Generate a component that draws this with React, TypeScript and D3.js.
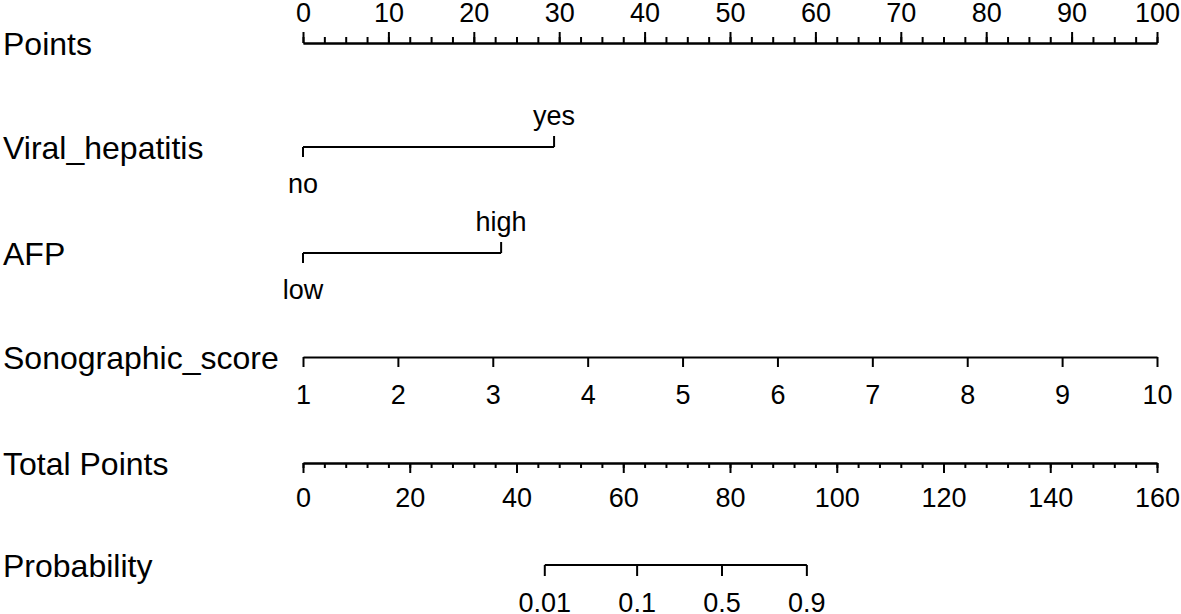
import * as d3 from 'd3';
import React, { useEffect } from 'react';

// nomogram values
const rowLabels = ['Points', 'Viral_hepatitis', 'AFP', 'Sonographic_score', 'Total Points', 'Probability'];
const pointsMajor = d3.range(0, 101, 10);
const pointsMinor = d3.range(0, 100.01, 2.5);
const viralLevels = ['no', 'yes'];
const viralPoints = [0, 29.4];
const afpLevels = ['low', 'high'];
const afpPoints = [0, 23.2];
const sonoScores = [1, 2, 3, 4, 5, 6, 7, 8, 9, 10];
const sonoPointRange = [0, 100];
const totalMajor = d3.range(0, 161, 20);
const totalMinor = d3.range(0, 160.01, 4);
const probTicks = [0.01, 0.1, 0.5, 0.9];
const probTotalPoints = [45.3, 62.6, 78.5, 94.4];

const width = 1181;
const height = 614;
const rowY = [43, 147, 253, 357, 463, 565];
const font = "'Liberation Sans', Arial, sans-serif";

const App = () => {
  useEffect(() => {
    d3.select('#nomogram').selectAll('*').remove();
    const svg = d3.select('#nomogram')
      .append('svg')
      .attr('width', width)
      .attr('height', height)
      .style('display', 'block')
      .style('background', '#fff');

    const x = d3.scaleLinear().domain([0, 100]).range([303, 1157]);
    const xTotal = d3.scaleLinear().domain([0, 160]).range([303, 1157]);

    // row titles on the left
    svg.append('g')
      .selectAll('text')
      .data(rowLabels)
      .enter().append('text')
      .attr('x', 3)
      .attr('y', (d, i) => rowY[i] + 12)
      .attr('font-family', font)
      .attr('font-size', 32)
      .text(d => d);

    const styleAxis = (g: any) => {
      g.select('.domain').attr('stroke', '#000').attr('stroke-width', 2);
      g.selectAll('.tick line').attr('stroke', '#000').attr('stroke-width', 2);
      g.selectAll('.tick text').attr('fill', '#000').attr('font-family', font).attr('font-size', 27);
      g.attr('font-family', null).attr('font-size', null);
    };

    // Points
    svg.append('g')
      .attr('transform', `translate(0,${rowY[0]})`)
      .call(d3.axisTop(x).tickValues(pointsMinor).tickSize(6).tickSizeOuter(0).tickFormat(() => ''))
      .call(styleAxis);
    svg.append('g')
      .attr('transform', `translate(0,${rowY[0]})`)
      .call(d3.axisTop(x).tickValues(pointsMajor).tickSize(11).tickSizeOuter(0).tickPadding(10).tickFormat(d3.format('d')))
      .call(styleAxis);

    // two-level factors: first level tick down / label below, second up / label above
    const factor = (levels: string[], pts: number[], y: number) => {
      const g = svg.append('g');
      g.append('line')
        .attr('x1', x(pts[0])).attr('x2', x(pts[1]))
        .attr('y1', y).attr('y2', y)
        .attr('stroke', '#000').attr('stroke-width', 2);
      levels.forEach((lv, i) => {
        const up = i % 2 === 1;
        g.append('line')
          .attr('x1', x(pts[i])).attr('x2', x(pts[i]))
          .attr('y1', y).attr('y2', up ? y - 11 : y + 10)
          .attr('stroke', '#000').attr('stroke-width', 2);
        g.append('text')
          .attr('x', x(pts[i]))
          .attr('y', up ? y - 22 : y + 46)
          .attr('text-anchor', 'middle')
          .attr('font-family', font)
          .attr('font-size', 27)
          .text(lv);
      });
    };
    factor(viralLevels, viralPoints, rowY[1]);
    factor(afpLevels, afpPoints, rowY[2]);

    // Sonographic score
    const xSono = d3.scaleLinear().domain([1, 10]).range([x(sonoPointRange[0]), x(sonoPointRange[1])]);
    svg.append('g')
      .attr('transform', `translate(0,${rowY[3]})`)
      .call(d3.axisBottom(xSono).tickValues(sonoScores).tickSize(10).tickSizeOuter(0).tickPadding(18).tickFormat(d3.format('d')))
      .call(styleAxis);

    // Total points
    svg.append('g')
      .attr('transform', `translate(0,${rowY[4]})`)
      .call(d3.axisBottom(xTotal).tickValues(totalMinor).tickSize(5).tickSizeOuter(0).tickFormat(() => ''))
      .call(styleAxis);
    svg.append('g')
      .attr('transform', `translate(0,${rowY[4]})`)
      .call(d3.axisBottom(xTotal).tickValues(totalMajor).tickSize(10).tickSizeOuter(0).tickPadding(15).tickFormat(d3.format('d')))
      .call(styleAxis);

    // Probability
    const xProb = d3.scaleOrdinal<number, number>()
      .domain(probTicks)
      .range(probTotalPoints.map(p => xTotal(p)));
    const pg = svg.append('g').attr('transform', `translate(0,${rowY[5]})`);
    pg.append('line')
      .attr('x1', xProb(probTicks[0])).attr('x2', xProb(probTicks[probTicks.length - 1]))
      .attr('stroke', '#000').attr('stroke-width', 2);
    const pt = pg.selectAll('g.tick').data(probTicks).enter().append('g')
      .attr('transform', d => `translate(${xProb(d)},0)`);
    pt.append('line').attr('y2', 11).attr('stroke', '#000').attr('stroke-width', 2);
    pt.append('text')
      .attr('y', 28)
      .attr('dy', '0.71em')
      .attr('text-anchor', 'middle')
      .attr('font-family', font)
      .attr('font-size', 27)
      .text(d => String(d));
  }, []);

  return (
    <div id="nomogram" style={{ position: 'absolute', left: 0, top: 0 }}></div>
  );
};

export default App;
